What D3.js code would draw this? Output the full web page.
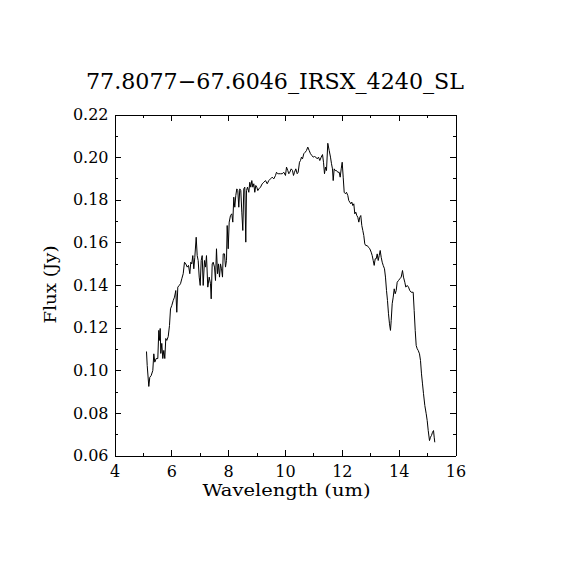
<!DOCTYPE html>
<html>
<head>
<meta charset="utf-8">
<script src="https://d3js.org/d3.v7.min.js"></script>
<style>
  body { margin: 0; background: #fff; }
  text { font-family: "DejaVu Serif", "Liberation Serif", serif; fill: #000; }
</style>
</head>
<body>
<script>
var title = "77.8077\u221267.6046_IRSX_4240_SL";
var xLabel = "Wavelength (um)";
var yLabel = "Flux (Jy)";
var xTicks = [4, 6, 8, 10, 12, 14, 16];
var xMinor = [5, 7, 9, 11, 13, 15];
var yTicks = [0.06, 0.08, 0.10, 0.12, 0.14, 0.16, 0.18, 0.20, 0.22];
var yMinor = [0.07, 0.09, 0.11, 0.13, 0.15, 0.17, 0.19, 0.21];

// spectrum
var wavelength = [
  5.126, 5.151, 5.207, 5.242, 5.291, 5.348, 5.383, 5.418, 5.467, 5.524,
  5.559, 5.584, 5.608, 5.629, 5.664, 5.700, 5.735, 5.770, 5.805, 5.840,
  5.890, 5.935, 5.971, 6.016, 6.066, 6.111, 6.157, 6.192, 6.228, 6.277,
  6.323, 6.368, 6.418, 6.463, 6.509, 6.558, 6.604, 6.650, 6.685, 6.720,
  6.755, 6.791, 6.826, 6.875, 6.910, 6.945, 6.981, 7.016, 7.051, 7.086,
  7.121, 7.167, 7.202, 7.237, 7.283, 7.333, 7.378, 7.403, 7.438, 7.473,
  7.519, 7.554, 7.589, 7.625, 7.660, 7.695, 7.730, 7.765, 7.801, 7.825,
  7.871, 7.906, 7.941, 7.966, 8.001, 8.036, 8.082, 8.128, 8.163, 8.198,
  8.233, 8.269, 8.304, 8.339, 8.374, 8.409, 8.445, 8.480, 8.515, 8.550,
  8.585, 8.620, 8.645, 8.680, 8.726, 8.761, 8.796, 8.832, 8.867, 8.902,
  8.937, 8.972, 9.008, 9.043, 9.078, 9.138, 9.198, 9.254, 9.314, 9.374,
  9.430, 9.490, 9.549, 9.606, 9.666, 9.701, 9.747, 9.782, 9.842, 9.901,
  9.958, 10.017, 10.053, 10.098, 10.134, 10.169, 10.218, 10.264, 10.299, 10.334,
  10.380, 10.429, 10.464, 10.510, 10.545, 10.580, 10.616, 10.662, 10.711, 10.756,
  10.802, 10.851, 10.897, 10.943, 10.993, 11.038, 11.084, 11.133, 11.179, 11.225,
  11.274, 11.320, 11.355, 11.390, 11.425, 11.460, 11.506, 11.555, 11.601, 11.636,
  11.671, 11.696, 11.731, 11.767, 11.812, 11.858, 11.907, 11.942, 11.978, 12.013,
  12.048, 12.083, 12.129, 12.164, 12.210, 12.245, 12.280, 12.315, 12.351, 12.386,
  12.421, 12.456, 12.491, 12.527, 12.562, 12.597, 12.632, 12.667, 12.703, 12.738,
  12.773, 12.808, 12.843, 12.893, 12.938, 12.984, 13.033, 13.069, 13.104, 13.139,
  13.174, 13.209, 13.245, 13.280, 13.315, 13.350, 13.385, 13.421, 13.456, 13.501,
  13.536, 13.572, 13.607, 13.642, 13.677, 13.712, 13.737, 13.772, 13.808, 13.843,
  13.878, 13.913, 13.948, 13.994, 14.040, 14.089, 14.135, 14.170, 14.216, 14.251,
  14.300, 14.346, 14.392, 14.441, 14.511, 14.546, 14.582, 14.617, 14.652, 14.687,
  14.733, 14.768, 14.803, 14.839, 14.874, 14.920, 14.969, 15.004, 15.040, 15.085,
  15.120, 15.155, 15.191, 15.226, 15.250, 15.271
];
var flux = [
  0.1088, 0.1022, 0.0924, 0.0967, 0.0975, 0.0999, 0.1077, 0.1038, 0.1055, 0.1055,
  0.1187, 0.1140, 0.1196, 0.1079, 0.1126, 0.1055, 0.1093, 0.1055, 0.1149, 0.1140,
  0.1158, 0.1210, 0.1288, 0.1304, 0.1327, 0.1343, 0.1374, 0.1272, 0.1390, 0.1398,
  0.1406, 0.1429, 0.1453, 0.1507, 0.1499, 0.1484, 0.1492, 0.1453, 0.1507, 0.1499,
  0.1538, 0.1476, 0.1530, 0.1624, 0.1538, 0.1515, 0.1437, 0.1398, 0.1515, 0.1538,
  0.1398, 0.1515, 0.1484, 0.1538, 0.1390, 0.1437, 0.1406, 0.1335, 0.1499, 0.1507,
  0.1484, 0.1421, 0.1570, 0.1453, 0.1499, 0.1437, 0.1499, 0.1476, 0.1437, 0.1546,
  0.1546, 0.1484, 0.1515, 0.1679, 0.1570, 0.1695, 0.1726, 0.1734, 0.1695, 0.1812,
  0.1765, 0.1820, 0.1851, 0.1843, 0.1765, 0.1851, 0.1843, 0.1742, 0.1656, 0.1851,
  0.1859, 0.1601, 0.1843, 0.1859, 0.1835, 0.1882, 0.1859, 0.1890, 0.1859, 0.1875,
  0.1835, 0.1867, 0.1859, 0.1843, 0.1851, 0.1859, 0.1875, 0.1882, 0.1890, 0.1875,
  0.1890, 0.1898, 0.1906, 0.1898, 0.1914, 0.1929, 0.1922, 0.1922, 0.1922, 0.1922,
  0.1929, 0.1914, 0.1953, 0.1937, 0.1922, 0.1929, 0.1945, 0.1937, 0.1914, 0.1929,
  0.1945, 0.1922, 0.1929, 0.1976, 0.1984, 0.2000, 0.1992, 0.2016, 0.2023, 0.2031,
  0.2047, 0.2031, 0.2016, 0.2008, 0.2000, 0.2003, 0.2000, 0.1992, 0.2000, 0.1984,
  0.2000, 0.2012, 0.1976, 0.1922, 0.1953, 0.1937, 0.2065, 0.2031, 0.2000, 0.1969,
  0.1945, 0.1890, 0.1945, 0.1937, 0.1937, 0.1929, 0.1929, 0.1906, 0.1945, 0.1976,
  0.1906, 0.1835, 0.1828, 0.1835, 0.1820, 0.1796, 0.1789, 0.1781, 0.1789, 0.1773,
  0.1781, 0.1734, 0.1742, 0.1726, 0.1718, 0.1695, 0.1718, 0.1726, 0.1679, 0.1656,
  0.1632, 0.1593, 0.1585, 0.1585, 0.1577, 0.1570, 0.1554, 0.1538, 0.1515, 0.1492,
  0.1523, 0.1523, 0.1546, 0.1515, 0.1538, 0.1562, 0.1530, 0.1507, 0.1492, 0.1476,
  0.1437, 0.1374, 0.1327, 0.1265, 0.1218, 0.1187, 0.1233, 0.1312, 0.1343, 0.1382,
  0.1359, 0.1374, 0.1413, 0.1421, 0.1429, 0.1437, 0.1468, 0.1437, 0.1413, 0.1390,
  0.1398, 0.1390, 0.1374, 0.1366, 0.1366, 0.1280, 0.1187, 0.1116, 0.1101, 0.1093,
  0.1077, 0.1046, 0.0983, 0.0936, 0.0890, 0.0835, 0.0796, 0.0764, 0.0717, 0.0670,
  0.0686, 0.0694, 0.0709, 0.0717, 0.0686, 0.0662
];

var W = 570, H = 570;
var margin = {left: 114, top: 114, right: 115, bottom: 115};
var width = W - margin.left - margin.right,
    height = H - margin.top - margin.bottom;

var svg = d3.select("body").append("svg")
    .attr("width", W)
    .attr("height", H);

var g = svg.append("g")
    .attr("transform", "translate(" + (margin.left + 0.5) + "," + (margin.top + 0.5) + ")");

var x = d3.scaleLinear().domain([4, 16]).range([0, width]);
var y = d3.scaleLinear().domain([0.06, 0.22]).range([height, 0]);

function styleAxis(sel) {
  sel.selectAll("path").attr("stroke", "#000").attr("stroke-width", 1).attr("shape-rendering", "crispEdges");
  sel.selectAll("line").attr("stroke", "#000").attr("stroke-width", 1).attr("shape-rendering", "crispEdges");
  sel.selectAll("text").attr("font-size", "16px").attr("fill", "#000")
    .attr("font-family", "'DejaVu Serif', 'Liberation Serif', serif");
}

// minor ticks first, major on top
g.append("g").attr("transform", "translate(0," + height + ")")
  .call(d3.axisBottom(x).tickValues(xMinor).tickSize(-3).tickSizeOuter(0).tickFormat(""))
  .call(styleAxis);
g.append("g")
  .call(d3.axisTop(x).tickValues(xMinor).tickSize(-3).tickSizeOuter(0).tickFormat(""))
  .call(styleAxis);
g.append("g")
  .call(d3.axisLeft(y).tickValues(yMinor).tickSize(-3).tickSizeOuter(0).tickFormat(""))
  .call(styleAxis);
g.append("g").attr("transform", "translate(" + width + ",0)")
  .call(d3.axisRight(y).tickValues(yMinor).tickSize(-3).tickSizeOuter(0).tickFormat(""))
  .call(styleAxis);

g.append("g").attr("transform", "translate(0," + height + ")")
  .call(d3.axisBottom(x).tickValues(xTicks).tickSize(-6).tickSizeOuter(0).tickPadding(10).tickFormat(d3.format("d")))
  .call(styleAxis);

g.append("g")
  .call(d3.axisTop(x).tickValues(xTicks).tickSize(-6).tickSizeOuter(0).tickFormat(""))
  .call(styleAxis);

g.append("g")
  .call(d3.axisLeft(y).tickValues(yTicks).tickSize(-6).tickSizeOuter(0).tickPadding(6).tickFormat(d3.format(".2f")))
  .call(styleAxis);

g.append("g").attr("transform", "translate(" + width + ",0)")
  .call(d3.axisRight(y).tickValues(yTicks).tickSize(-6).tickSizeOuter(0).tickFormat(""))
  .call(styleAxis);

// spectrum
var line = d3.line()
  .x(function(d, i) { return x(wavelength[i]); })
  .y(function(d) { return y(d); });

g.append("path")
  .datum(flux)
  .attr("fill", "none")
  .attr("stroke", "#000")
  .attr("stroke-width", 1)
  .attr("d", line);

// titles
svg.append("text")
  .attr("x", 275)
  .attr("y", 89)
  .attr("text-anchor", "middle")
  .attr("font-size", "22px")
  .attr("textLength", 378)
  .attr("lengthAdjust", "spacingAndGlyphs")
  .text(title);

svg.append("text")
  .attr("x", 286.5)
  .attr("y", 496)
  .attr("text-anchor", "middle")
  .attr("font-size", "17px")
  .attr("textLength", 168)
  .attr("lengthAdjust", "spacingAndGlyphs")
  .text(xLabel);

svg.append("text")
  .attr("transform", "translate(56," + (margin.top + height / 2) + ") rotate(-90)")
  .attr("text-anchor", "middle")
  .attr("font-size", "17px")
  .attr("textLength", 78)
  .attr("lengthAdjust", "spacingAndGlyphs")
  .text(yLabel);
</script>
</body>
</html>
